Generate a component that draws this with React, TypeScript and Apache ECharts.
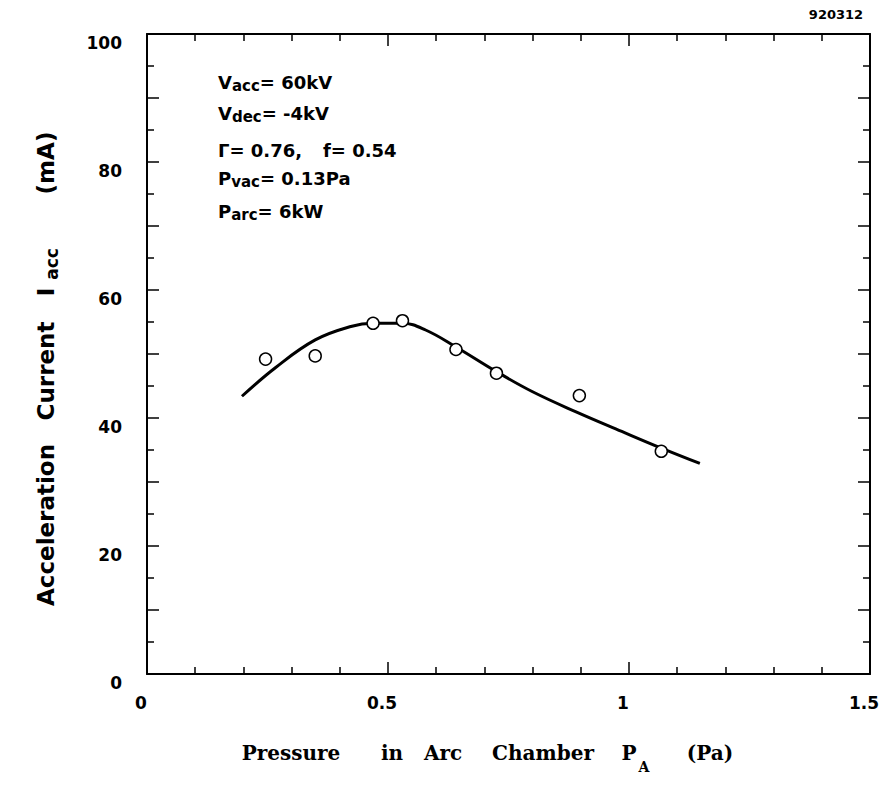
import React, { useEffect, useRef } from "react";
import * as echarts from "echarts";

// Measured data points (pressure in Pa, acceleration current in mA)
const pressure = [0.246, 0.349, 0.469, 0.530, 0.641, 0.725, 0.897, 1.067];
const current = [49.2, 49.7, 54.8, 55.2, 50.7, 47.0, 43.5, 34.8];

// Fitted curve
const fitPressure = [0.197, 0.267, 0.349, 0.423, 0.469, 0.530, 0.578, 0.641, 0.726, 0.80, 0.889, 0.985, 1.067, 1.147];
const fitCurrent = [43.4, 47.9, 52.2, 54.3, 54.8, 54.8, 53.75, 51.1, 47.2, 44.1, 41.0, 37.9, 35.3, 32.9];

const xTicks = [0, 0.5, 1, 1.5];
const yTicks = [0, 20, 40, 60, 80, 100];

const SANS = "DejaVu Sans";
const SERIF = "DejaVu Serif";

const annRich = {
  m: { fontSize: 18, fontWeight: "bold", fontFamily: SANS, color: "#000", lineHeight: 20, verticalAlign: "top" },
  s: { fontSize: 15, fontWeight: "bold", fontFamily: SANS, color: "#000", lineHeight: 15, padding: [8, 0, 0, 0], verticalAlign: "bottom" },
};

function annText(x: number, y: number, text: string) {
  return {
    type: "text",
    x,
    y,
    style: { text, rich: annRich, align: "left", verticalAlign: "top" },
  };
}

function yTitle(text: string, y: number, x: number, size: number) {
  return {
    type: "text",
    x,
    y,
    rotation: Math.PI / 2,
    style: {
      text,
      fontFamily: SANS,
      fontWeight: "bold",
      fontSize: size,
      fill: "#000",
      align: "center",
      verticalAlign: "middle",
    },
  };
}

function xTitle(text: string, x: number, y: number, size: number) {
  return {
    type: "text",
    x,
    y,
    style: {
      text,
      fontFamily: SERIF,
      fontWeight: "bold",
      fontSize: size,
      fill: "#000",
      align: "center",
      verticalAlign: "middle",
    },
  };
}

export default function App() {
  const ref = useRef<HTMLDivElement>(null);
  useEffect(() => {
    if (!ref.current) return;
    const chart = echarts.init(ref.current, null, { renderer: "svg" });

    const xAxisCommon = {
      type: "value",
      min: 0,
      max: 1.5,
      interval: 0.5,
      axisLine: { show: true, onZero: false, lineStyle: { color: "#000", width: 2 } },
      axisTick: { show: true, inside: true, length: 12, lineStyle: { color: "#000", width: 1.5 } },
      minorTick: { show: true, splitNumber: 5, length: 7, lineStyle: { color: "#000", width: 1.5 } },
      splitLine: { show: false },
      minorSplitLine: { show: false },
    };
    const yAxisCommon = {
      type: "value",
      min: 0,
      max: 100,
      interval: 10,
      axisLine: { show: true, onZero: false, lineStyle: { color: "#000", width: 2 } },
      axisTick: { show: true, inside: true, length: 12, lineStyle: { color: "#000", width: 1.5 } },
      minorTick: { show: true, splitNumber: 2, length: 7, lineStyle: { color: "#000", width: 1.5 } },
      splitLine: { show: false },
      minorSplitLine: { show: false },
    };

    chart.setOption({
      animation: false,
      backgroundColor: "#fff",
      grid: { left: 147, top: 34, right: 21, bottom: 115, containLabel: false },
      xAxis: [
        {
          ...xAxisCommon,
          position: "bottom",
          axisLabel: {
            show: true,
            margin: 20,
            padding: [0, 12, 0, 0],
            color: "#000",
            fontFamily: SANS,
            fontWeight: "bold",
            fontSize: 17,
            formatter: (v: number) => (xTicks.includes(v) ? String(v) : ""),
          },
        },
        { ...xAxisCommon, position: "top", axisLabel: { show: false } },
      ],
      yAxis: [
        {
          ...yAxisCommon,
          position: "left",
          axisLabel: {
            show: true,
            margin: 25,
            verticalAlign: "top",
            color: "#000",
            fontFamily: SANS,
            fontWeight: "bold",
            fontSize: 17,
            formatter: (v: number) => (yTicks.includes(v) ? String(v) : ""),
          },
        },
        { ...yAxisCommon, position: "right", axisLabel: { show: false } },
      ],
      series: [
        {
          type: "line",
          xAxisIndex: 0,
          yAxisIndex: 0,
          data: fitPressure.map((p, i) => [p, fitCurrent[i]]),
          showSymbol: false,
          smooth: 0.4,
          lineStyle: { color: "#000", width: 3 },
          z: 2,
        },
        {
          type: "scatter",
          xAxisIndex: 0,
          yAxisIndex: 0,
          data: pressure.map((p, i) => [p, current[i]]),
          symbol: "circle",
          symbolSize: 12,
          itemStyle: { color: "#fff", borderColor: "#000", borderWidth: 1.5, opacity: 1 },
          z: 3,
        },
      ],
      graphic: [
        annText(218, 73, "{m|V}{s|acc}{m|= 60kV}"),
        annText(218, 104.5, "{m|V}{s|dec}{m|= -4kV}"),
        annText(218, 141, "{m|Γ= 0.76,}"),
        annText(323, 141, "{m|f= 0.54}"),
        annText(218, 169, "{m|P}{s|vac}{m|= 0.13Pa}"),
        annText(218, 202.5, "{m|P}{s|arc}{m|= 6kW}"),
        {
          type: "text",
          x: 836,
          y: 14.5,
          style: {
            text: "920312",
            fontFamily: SANS,
            fontWeight: "bold",
            fontSize: 13,
            fill: "#000",
            align: "center",
            verticalAlign: "middle",
          },
        },
        yTitle("Acceleration", 525, 46, 23),
        yTitle("Current", 371, 46, 23),
        yTitle("I", 292, 46, 23),
        yTitle("acc", 264, 52, 17),
        yTitle("(mA)", 163, 46, 23),
        xTitle("Pressure", 291, 753, 20),
        xTitle("in", 392, 753, 20),
        xTitle("Arc", 443, 753, 20),
        xTitle("Chamber", 543, 753, 20),
        xTitle("P", 629, 753, 20),
        xTitle("A", 644, 767, 14),
        xTitle("(Pa)", 710, 753, 20),
      ],
    });
    return () => chart.dispose();
  }, []);

  return <div ref={ref} style={{ width: 891, height: 789, position: "absolute", left: 0, top: 0 }} />;
}
